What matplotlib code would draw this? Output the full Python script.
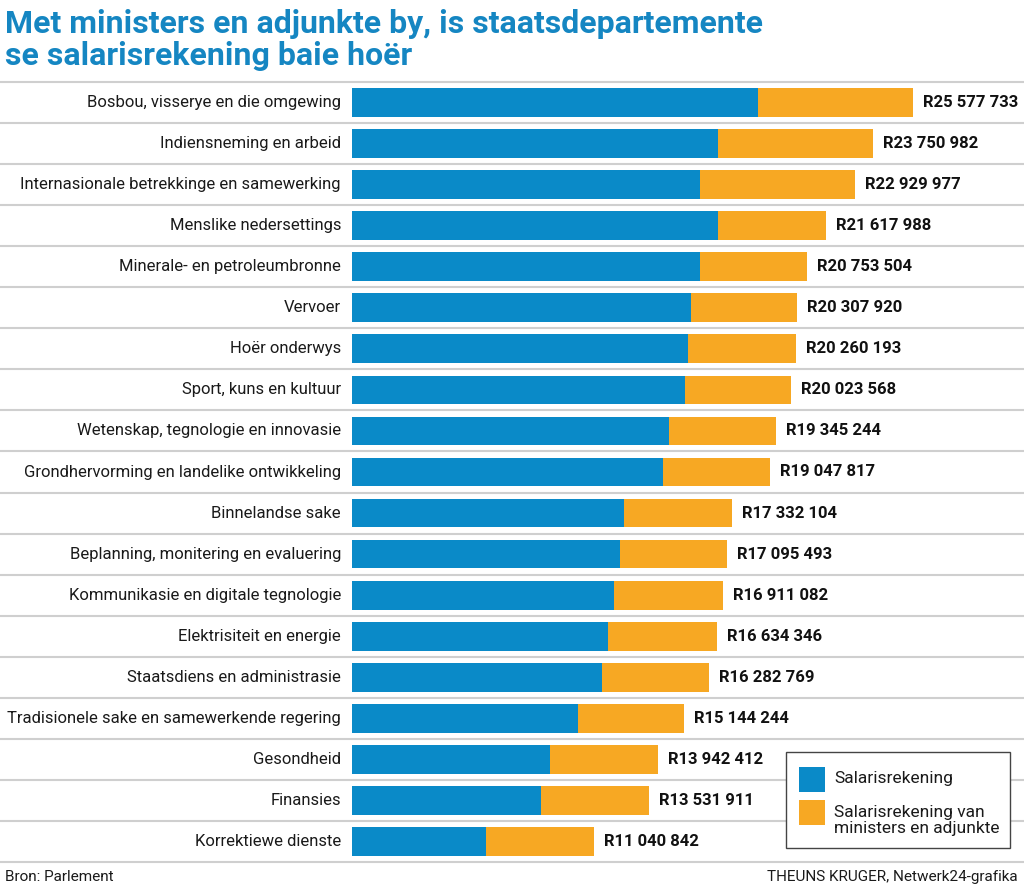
import matplotlib
matplotlib.use("Agg")
import matplotlib.pyplot as plt
from matplotlib import font_manager
from matplotlib.patches import Rectangle

# Data (rand)
departments = [
    "Bosbou, visserye en die omgewing",
    "Indiensneming en arbeid",
    "Internasionale betrekkinge en samewerking",
    "Menslike nedersettings",
    "Minerale- en petroleumbronne",
    "Vervoer",
    "Hoër onderwys",
    "Sport, kuns en kultuur",
    "Wetenskap, tegnologie en innovasie",
    "Grondhervorming en landelike ontwikkeling",
    "Binnelandse sake",
    "Beplanning, monitering en evaluering",
    "Kommunikasie en digitale tegnologie",
    "Elektrisiteit en energie",
    "Staatsdiens en administrasie",
    "Tradisionele sake en samewerkende regering",
    "Gesondheid",
    "Finansies",
    "Korrektiewe dienste",
]
totals = [25577733, 23750982, 22929977, 21617988, 20753504, 20307920,
          20260193, 20023568, 19345244, 19047817, 17332104, 17095493,
          16911082, 16634346, 16282769, 15144244, 13942412, 13531911,
          11040842]
# salary bill without ministers
salaries = [18.51e6, 16.69e6, 15.87e6, 16.69e6, 15.87e6, 15.46e6,
            15.32e6, 15.18e6, 14.45e6, 14.18e6, 12.40e6, 12.22e6,
            11.95e6, 11.67e6, 11.40e6, 10.31e6, 9.03e6, 8.62e6, 6.11e6]
ministers = [t - s for t, s in zip(totals, salaries)]
legend_labels = ["Salarisrekening", "Salarisrekening van\nministers en adjunkte"]

BLUE = "#0a8ac8"
ORANGE = "#f7a823"
TITLE = "#1586c2"

# pick a narrow font if one is installed
names = {f.name for f in font_manager.fontManager.ttflist}
fam = "Liberation Sans Narrow" if "Liberation Sans Narrow" in names else "Roboto"
plt.rcParams["font.family"] = [fam, "DejaVu Sans"]

W, H = 1024, 892
fig = plt.figure(figsize=(W / 100, H / 100), dpi=100)
x0, x1 = 352, 1024
y_top, y_bot = 82, 862
ax = fig.add_axes([x0 / W, 1 - y_bot / H, (x1 - x0) / W, (y_bot - y_top) / H])
px_per_m = 21.93
ax.set_xlim(0, (x1 - x0) / px_per_m * 1e6)
n = len(departments)
ax.set_ylim(n - 0.5, -0.5)
ax.axis("off")

ys = list(range(n))
ax.barh(ys, salaries, height=0.7, color=BLUE)
ax.barh(ys, ministers, left=salaries, height=0.7, color=ORANGE)

gap = 10 / px_per_m * 1e6
for y, name, tot in zip(ys, departments, totals):
    ax.text(-11 / px_per_m * 1e6, y, name, ha="right", va="center",
            fontsize=12, color="#1a1a1a", clip_on=False)
    lab = "R" + f"{tot:,}".replace(",", " ")
    ax.text(tot + gap, y, lab, ha="left", va="center", fontsize=12,
            fontweight="bold", color="#111111")

# separators between rows
for k in range(n + 1):
    ax.axhline(k - 0.5, xmin=-x0 / (x1 - x0), xmax=1, color="#cfcfcf",
               lw=1.5, clip_on=False, zorder=0)

fig.text(5 / W, 1 - 24 / H, "Met ministers en adjunkte by, is staatsdepartemente",
         fontsize=23, fontweight="bold", color=TITLE, va="center", ha="left")
fig.text(5 / W, 1 - 56 / H, "se salarisrekening baie hoër",
         fontsize=23, fontweight="bold", color=TITLE, va="center", ha="left")

fig.text(5 / W, 1 - 877 / H, "Bron: Parlement", fontsize=11, color="#1a1a1a",
         va="center", ha="left")
fig.text(1018 / W, 1 - 877 / H, "THEUNS KRUGER, Netwerk24-grafika", fontsize=11,
         color="#1a1a1a", va="center", ha="right")

# legend drawn by hand (pixel positions from the reference)
def fbox(px, py, pw, ph, **kw):
    return Rectangle((px / W, 1 - (py + ph) / H), pw / W, ph / H,
                     transform=fig.transFigure, **kw)

fig.add_artist(fbox(786, 752, 224, 96, facecolor="white", edgecolor="#444444",
                    lw=1.0, zorder=5))
fig.add_artist(fbox(799, 767, 26, 25, facecolor=BLUE, edgecolor="none", zorder=6))
fig.add_artist(fbox(799, 800, 26, 25, facecolor=ORANGE, edgecolor="none", zorder=6))
fig.text(834 / W, 1 - 779 / H, legend_labels[0], fontsize=12.5, va="center",
         ha="left", color="#1a1a1a", zorder=7)
fig.text(834 / W, 1 - 820.5 / H, legend_labels[1], fontsize=12.5, va="center",
         ha="left", color="#1a1a1a", linespacing=1.0, zorder=7)

fig.savefig("out.png", dpi=100)
